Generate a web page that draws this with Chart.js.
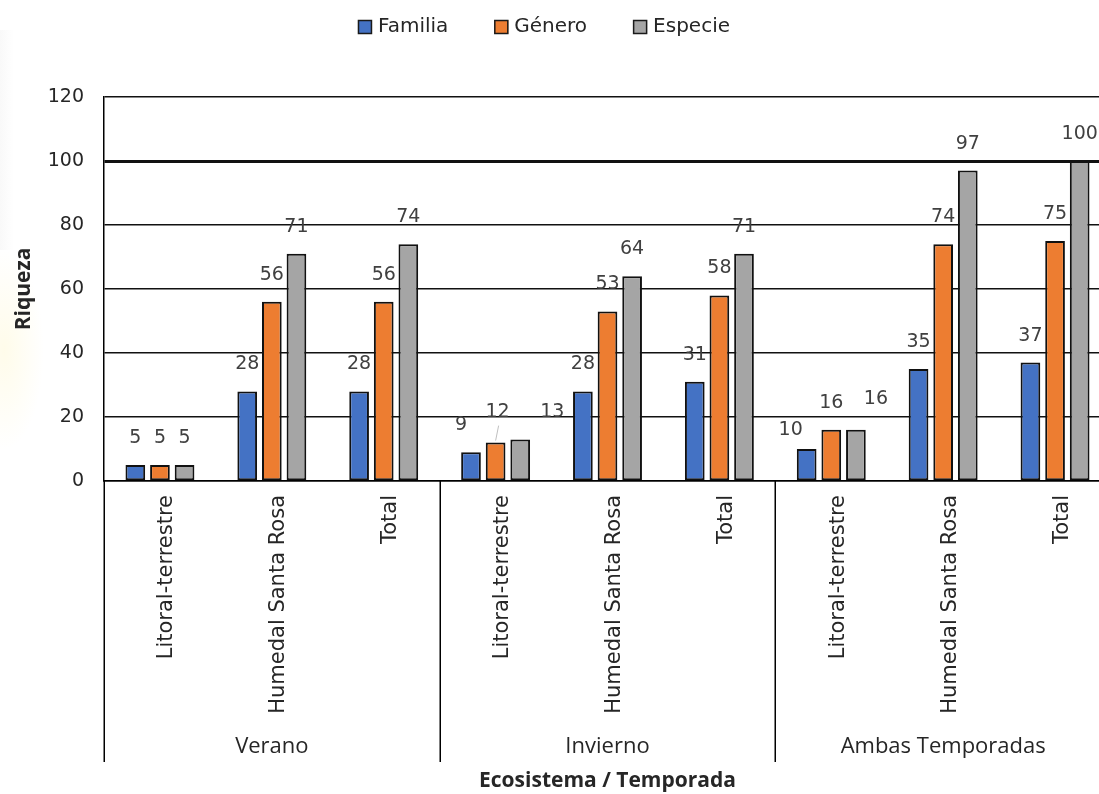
<!DOCTYPE html>
<html lang="es">
<head>
<meta charset="utf-8">
<title>Riqueza por ecosistema y temporada</title>
<script src="https://cdn.jsdelivr.net/npm/chart.js@4.4.1/dist/chart.umd.min.js"></script>
<style>
  html, body { margin: 0; padding: 0; background: #ffffff; overflow: hidden; }
  #wrap {
    position: relative; width: 1112px; height: 794px;
    background:
      radial-gradient(ellipse 40px 100px at 4px 350px, rgba(255, 240, 160, 0.22), rgba(255, 240, 160, 0) 100%),
      linear-gradient(to right, rgba(210, 210, 210, 0.14), rgba(210, 210, 210, 0) 14px) 0 30px / 14px 220px no-repeat;
  }
  canvas { display: block; }
</style>
</head>
<body>
<div id="wrap"><canvas id="c" width="1112" height="794"></canvas></div>
<script>
// Ecosystems shown for every season, and the seasons that group them
const ecosistemas = ['Litoral-terrestre', 'Humedal Santa Rosa', 'Total'];
const temporadas = ['Verano', 'Invierno', 'Ambas Temporadas'];
const categorias = [
  'Litoral-terrestre', 'Humedal Santa Rosa', 'Total',
  'Litoral-terrestre', 'Humedal Santa Rosa', 'Total',
  'Litoral-terrestre', 'Humedal Santa Rosa', 'Total'
];

// Richness per taxonomic level
const familia = [5, 28, 28, 9, 28, 31, 10, 35, 37];
const genero  = [5, 56, 56, 12, 53, 58, 16, 74, 75];
const especie = [5, 71, 74, 13, 64, 71, 16, 97, 100];

const serieNombres = ['Familia', 'Género', 'Especie'];
const yMax = 120;
const yPaso = 20;

const TEXT = '#262626';
const SANS = '"DejaVu Sans", Verdana, sans-serif';
const OPEN = '"Open Sans", sans-serif';

// Hand-placed value labels (series index, category index) -> nudge in px
const labelNudge = {
  '0:3': { dx: -10, dy: 0 },
  '1:3': { dx: 2, dy: -4, leader: true },
  '2:3': { dx: 32, dy: 0 },
  '0:6': { dx: -16, dy: 8 },
  '2:6': { dx: 20, dy: -4 }
};

const valueLabels = {
  id: 'valueLabels',
  afterDatasetsDraw(chart) {
    const ctx = chart.ctx;
    ctx.save();
    ctx.font = '19px ' + SANS;
    ctx.fillStyle = '#404040';
    ctx.textAlign = 'center';
    ctx.textBaseline = 'middle';
    chart.data.datasets.forEach((ds, si) => {
      const meta = chart.getDatasetMeta(si);
      meta.data.forEach((bar, i) => {
        const n = labelNudge[si + ':' + i] || { dx: 0, dy: 0 };
        const x = bar.x + n.dx;
        const y = bar.y - 27 + n.dy;
        if (n.leader) {
          ctx.save();
          ctx.strokeStyle = '#bfbfbf';
          ctx.lineWidth = 1;
          ctx.beginPath();
          ctx.moveTo(x + 1, y + 14);
          ctx.lineTo(bar.x, bar.y - 2);
          ctx.stroke();
          ctx.restore();
        }
        ctx.fillText(String(ds.data[i]), x, y);
      });
    });
    ctx.restore();
  }
};

// Second category level: season separators and names under the rotated labels
const seasonAxis = {
  id: 'seasonAxis',
  afterDraw(chart) {
    const ctx = chart.ctx;
    const xs = chart.scales.x;
    const top = chart.chartArea.bottom;
    const bottom = 762;
    const per = ecosistemas.length;
    const edge = (i) => i <= 0 ? xs.left
      : (i >= categorias.length ? xs.right
      : (xs.getPixelForValue(i - 1) + xs.getPixelForValue(i)) / 2);
    ctx.save();
    ctx.strokeStyle = '#000';
    ctx.lineWidth = 1.5;
    for (let g = 0; g <= temporadas.length; g++) {
      const x = Math.round(edge(g * per)) + 0.25;
      ctx.beginPath();
      ctx.moveTo(x, top);
      ctx.lineTo(x, bottom);
      ctx.stroke();
    }
    ctx.font = '22px ' + OPEN;
    ctx.fillStyle = TEXT;
    ctx.textAlign = 'center';
    ctx.textBaseline = 'middle';
    temporadas.forEach((t, g) => {
      const cx = (edge(g * per) + edge((g + 1) * per)) / 2;
      ctx.fillText(t, cx, 747);
    });
    ctx.restore();
  }
};

// Legend row with square swatches
const topLegend = {
  id: 'topLegend',
  afterDraw(chart) {
    const ctx = chart.ctx;
    const box = 14, gap = 6, itemGap = 46, cy = 27;
    ctx.save();
    ctx.font = '20px ' + SANS;
    ctx.textBaseline = 'middle';
    const items = chart.data.datasets.map(ds => ({
      label: ds.label, color: ds.backgroundColor, w: ctx.measureText(ds.label).width
    }));
    const total = items.reduce((s, it) => s + box + gap + it.w, 0) + itemGap * (items.length - 1);
    let x = 544 - total / 2;
    items.forEach(it => {
      ctx.fillStyle = it.color;
      ctx.fillRect(x, cy - box / 2, box, box);
      ctx.strokeStyle = '#1a1a1a';
      ctx.lineWidth = 1.5;
      ctx.strokeRect(x + 0.5, cy - box / 2 + 0.5, box - 1, box - 1);
      ctx.fillStyle = TEXT;
      ctx.textAlign = 'left';
      ctx.fillText(it.label, x + box + gap, cy);
      x += box + gap + it.w + itemGap;
    });
    ctx.restore();
  }
};

const barStyle = {
  borderColor: '#111111',
  borderWidth: 2,
  borderSkipped: false,
  categoryPercentage: 0.66,
  barPercentage: 0.8
};

new Chart(document.getElementById('c'), {
  type: 'bar',
  data: {
    labels: categorias,
    datasets: [
      Object.assign({ label: serieNombres[0], data: familia, backgroundColor: '#4472C4' }, barStyle),
      Object.assign({ label: serieNombres[1], data: genero,  backgroundColor: '#ED7D31' }, barStyle),
      Object.assign({ label: serieNombres[2], data: especie, backgroundColor: '#A5A5A5' }, barStyle)
    ]
  },
  options: {
    responsive: false,
    devicePixelRatio: 1,
    animation: false,
    layout: { padding: { top: 97, left: 10, right: 1, bottom: 0 } },
    plugins: {
      legend: { display: false },
      tooltip: { enabled: false }
    },
    scales: {
      x: {
        grid: { display: false, drawTicks: false },
        border: { display: true, color: '#000', width: 1.5 },
        ticks: {
          autoSkip: false,
          minRotation: 90,
          maxRotation: 90,
          padding: 14,
          labelOffset: 7,
          color: TEXT,
          font: { family: SANS, size: 21 }
        },
        title: {
          display: true,
          text: 'Ecosistema / Temporada',
          color: TEXT,
          font: { family: OPEN, size: 21, weight: 'bold' },
          padding: { top: 0, bottom: 0 }
        },
        afterFit(scale) { scale.height = 313; }
      },
      y: {
        min: 0,
        max: yMax,
        ticks: {
          stepSize: yPaso,
          padding: 20,
          color: TEXT,
          font: { family: SANS, size: 19 }
        },
        grid: {
          drawTicks: false,
          color: '#111111',
          lineWidth: (c) => (c.tick && c.tick.value === 100 ? 3 : 1.5)
        },
        border: { display: true, color: '#000', width: 1.5 },
        title: {
          display: true,
          text: 'Riqueza',
          color: TEXT,
          font: { family: OPEN, size: 21, weight: 'bold' },
          padding: { top: 1, bottom: 0 }
        },
        afterFit(scale) { scale.width = 94; }
      }
    }
  },
  plugins: [valueLabels, seasonAxis, topLegend]
});
</script>
</body>
</html>
